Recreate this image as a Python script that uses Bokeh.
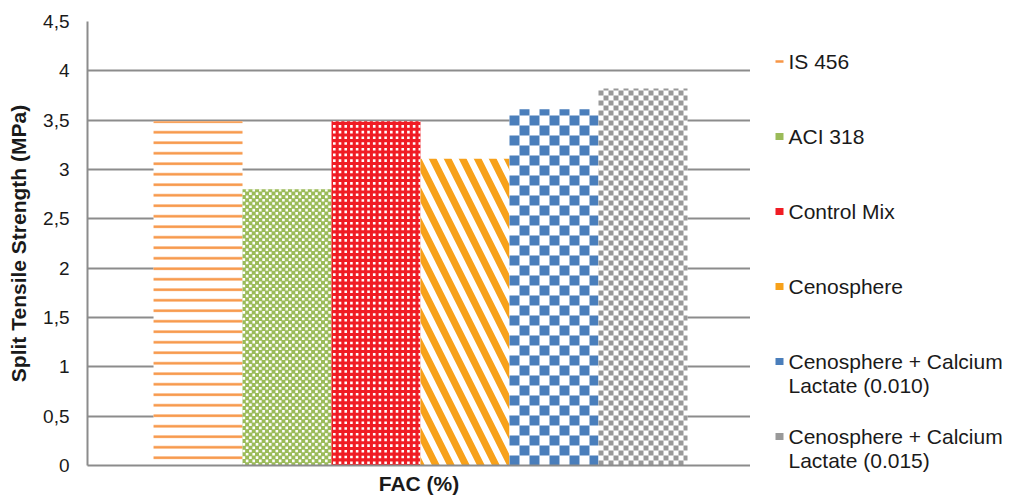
import numpy as np
from bokeh.plotting import figure
from bokeh.models import Range1d, FixedTicker, Label
from bokeh.layouts import row, column
from bokeh.embed import file_html
from bokeh.resources import INLINE

# ---- data ----
series = ["IS 456", "ACI 318", "Control Mix", "Cenosphere",
          "Cenosphere + Calcium\nLactate (0.010)",
          "Cenosphere  + Calcium\nLactate (0.015)"]
values = [3.49, 2.80, 3.49, 3.11, 3.61, 3.82]
y_ticks = [0, 0.5, 1, 1.5, 2, 2.5, 3, 3.5, 4, 4.5]
y_tick_labels = ["0", "0,5", "1", "1,5", "2", "2,5", "3", "3,5", "4", "4,5"]
x_title = "FAC (%)"
y_title = "Split Tensile Strength (MPa)"

# ---- layout / style constants ----
W_MAIN, W_LEG, H = 750, 265, 498
BORDER_L, BORDER_T, BORDER_B = 87, 21, 33
X_RANGE = (-1.242, 6.208)
Y_RANGE = (0, 4.5)
PX_X = (W_MAIN - BORDER_L) / (X_RANGE[1] - X_RANGE[0])      # px per x unit
PX_Y = (H - BORDER_T - BORDER_B) / (Y_RANGE[1] - Y_RANGE[0])  # px per y unit

grid_color = "#8C8C8C"
text_color = "#1A1A1A"
font = "Liberation Sans"

orange1 = "#F79646"
green = "#9BBB59"
red = "#F01C24"
orange2 = "#F7A11A"
blue = "#4A7EBB"
gray = "#999999"

base_styles = [
    dict(fill_color="white", hatch_pattern="horizontal_line", hatch_color=orange1, hatch_scale=10.5, hatch_weight=2.5),
    dict(fill_color=green),
    dict(fill_color=red),
    dict(fill_color="white", hatch_pattern="left_diagonal_line", hatch_color=orange2, hatch_scale=30, hatch_weight=7),
    dict(fill_color="white"),
    dict(fill_color="white"),
]
# overlay cell patterns: (color, cell size px, period px, offsets list in px)
overlays = [
    None,
    ("white", 2.6, 6.6, [(0, 0), (3.3, 3.3)]),
    ("white", 2.6, 5.7, [(1.5, 1.5)]),
    None,
    (blue, 10.0, 20.0, [(0, 0), (10, 10)]),
    (gray, 5.0, 10.0, [(0, 0), (5, 5)]),
]
legend_colors = [orange1, green, red, orange2, blue, gray]


def pattern_cells(i, v, spec):
    color, size, period, offsets = spec
    x0, x1 = i - 0.5, i + 0.5
    wpx = (x1 - x0) * PX_X
    hpx = v * PX_Y
    L, R, B, T = [], [], [], []
    for ox, oy in offsets:
        for cx in np.arange(ox, wpx, period):
            for cy in np.arange(oy, hpx, period):
                L.append(x0 + cx / PX_X)
                R.append(min(x0 + (cx + size) / PX_X, x1))
                B.append(cy / PX_Y)
                T.append(min((cy + size) / PX_Y, v))
    return color, L, R, B, T


p = figure(width=W_MAIN, height=H, output_backend="svg", toolbar_location=None,
           x_range=Range1d(*X_RANGE), y_range=Range1d(*Y_RANGE),
           min_border_left=BORDER_L, min_border_right=0,
           min_border_top=BORDER_T, min_border_bottom=BORDER_B)
p.outline_line_color = None

for i, (v, st, ov) in enumerate(zip(values, base_styles, overlays)):
    p.vbar(x=[i], top=[v], width=1.0, bottom=0, line_color=None, **st)
    if ov is not None:
        c, L, R, B, T = pattern_cells(i, v, ov)
        p.quad(left=L, right=R, bottom=B, top=T, fill_color=c, line_color=None)

p.xgrid.grid_line_color = None
p.ygrid.ticker = FixedTicker(ticks=y_ticks)
p.ygrid.grid_line_color = grid_color
p.ygrid.grid_line_width = 2

p.yaxis.ticker = FixedTicker(ticks=y_ticks)
p.yaxis.major_label_overrides = {t: l for t, l in zip(y_ticks, y_tick_labels)}
p.yaxis.major_tick_line_color = None
p.yaxis.minor_tick_line_color = None
p.yaxis.axis_line_color = grid_color
p.yaxis.axis_line_width = 2
p.yaxis.major_label_text_font = font
p.yaxis.major_label_text_font_size = "19px"
p.yaxis.major_label_text_color = text_color
p.yaxis.major_label_standoff = 12
p.yaxis.axis_label = y_title
p.yaxis.axis_label_text_font = font
p.yaxis.axis_label_text_font_size = "21px"
p.yaxis.axis_label_text_font_style = "bold"
p.yaxis.axis_label_text_color = text_color
p.yaxis.axis_label_standoff = 10

p.xaxis.ticker = FixedTicker(ticks=[])
p.xaxis.major_tick_line_color = None
p.xaxis.minor_tick_line_color = None
p.xaxis.axis_line_color = grid_color
p.xaxis.axis_line_width = 2
p.xaxis.axis_label = x_title
p.xaxis.axis_label_text_font = font
p.xaxis.axis_label_text_font_size = "21px"
p.xaxis.axis_label_text_font_style = "bold"
p.xaxis.axis_label_text_color = text_color
p.xaxis.axis_label_standoff = 6
p.xaxis.major_label_text_font_size = "0px"

# ---- legend panel (coordinates in page pixels) ----
lg = figure(width=W_LEG, height=H, output_backend="svg", toolbar_location=None,
            x_range=Range1d(W_MAIN, W_MAIN + W_LEG),
            y_range=Range1d(H, 0), min_border=0)
lg.axis.visible = False
lg.grid.visible = False
lg.outline_line_color = None

top0 = 61
step = 75
for i, (name, col) in enumerate(zip(series, legend_colors)):
    yc = top0 + i * step
    h = 2.5 if i == 0 else 7
    lg.rect(x=[779], y=[yc], width=8, height=h, fill_color=col, line_color=None)
    lg.add_layout(Label(x=788, y=yc - 12, text=name, text_font=font, text_font_size="21px",
                        text_color=text_color, text_baseline="top", text_align="left",
                        text_line_height=1.05))

layout = row(p, column(lg))
open("out.html", "w").write(file_html(layout, INLINE))
